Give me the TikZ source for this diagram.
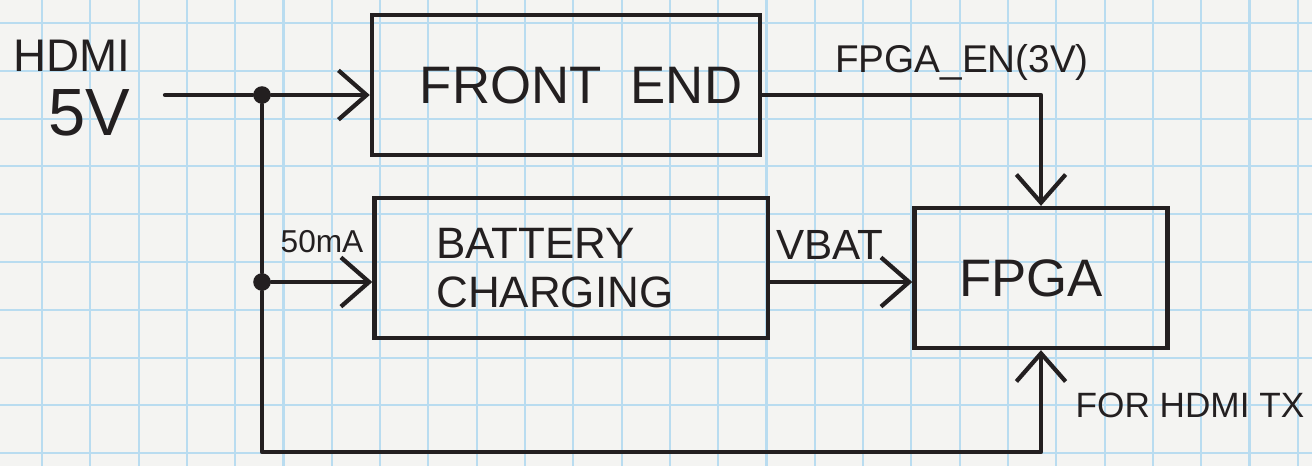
\documentclass[tikz,border=0pt]{standalone}
\usepackage{fontspec}
\setmainfont{Liberation Sans}
\usetikzlibrary{arrows.meta,calc}
\definecolor{paper}{HTML}{F4F4F2}
\definecolor{gridblue}{HTML}{B9DCF0}
\definecolor{ink}{HTML}{231F20}
\newcommand{\fs}[1]{\fontsize{#1}{#1}\selectfont}
\tikzset{
  wire/.style={draw=ink, line width=1.2pt, line cap=round, line join=round},
  flow/.style={wire, -{Straight Barb[length=8pt,width=14pt,line width=1.2pt]}},
  blockbox/.style={draw=ink, line width=1.2pt, minimum height=1.4cm, inner sep=0pt},
  lbl/.style={text=ink, inner sep=0pt},
  junction/.style={circle, fill=ink, inner sep=0pt, minimum size=5pt},
}
\begin{document}
\begin{tikzpicture}[x=0.01cm, y=-0.01cm]
\useasboundingbox (0,0) rectangle (1312,466);
\fill[paper] (0,0) rectangle (1312,466);
% grid paper
\foreach \k in {0,...,26} { \draw[gridblue, line width=0.6pt] ({42+48.3*\k},0) -- ({42+48.3*\k},466); }
\foreach \k in {0,...,9} { \draw[gridblue, line width=0.6pt] (0,{23+47.8*\k}) -- (1312,{23+47.8*\k}); }

% blocks
\node[blockbox, minimum width=3.88cm, text=ink] (fe) at (566,85) {\fs{15}\hspace*{0.3cm}FRONT\ \ END};
\node[blockbox, text=ink, align=left, text width=2.69cm, inner xsep=0.62cm] (bc) at (571,268) {\fs{12.5}BATTERY\\[2pt]\fs{12.5}CHARGING};
\node[blockbox, minimum width=2.53cm, text=ink] (fpga) at (1041,278) {\fs{15}FPGA\hspace*{0.2cm}};

% input
\node[lbl, align=right] (hdmi) at (72,88) {\fs{13}HDMI\\[4pt]\fs{19}5V};
\coordinate (in) at (165,95);
\node[junction] (j1) at (262,95) {};
\node[junction] (j2) at (262,282) {};
\coordinate (bl) at (262,452);

\draw[wire] (in) -- (j1);
\draw[flow] (j1) -- (fe.west |- j1);
\draw[wire] (j1) -- (j2);
\draw[flow] (j2) -- (bc.west |- j2);
\draw[flow] (j2) -- (bl) -| (fpga.south);

\draw[flow] (fe.east |- in) -| (fpga.north);
\draw[flow] (bc.east |- j2) -- (fpga.west |- j2);

% labels
\node[lbl] (en) at (962,62) {\fs{11}FPGA\_EN(3V)};
\node[lbl] (vbat) at (830,245) {\fs{12}VBAT};
\node[lbl] (ma) at (322,242) {\fs{9}50mA};
\node[lbl] (tx) at (1190,405) {\fs{10}FOR HDMI TX};
\end{tikzpicture}
\end{document}
